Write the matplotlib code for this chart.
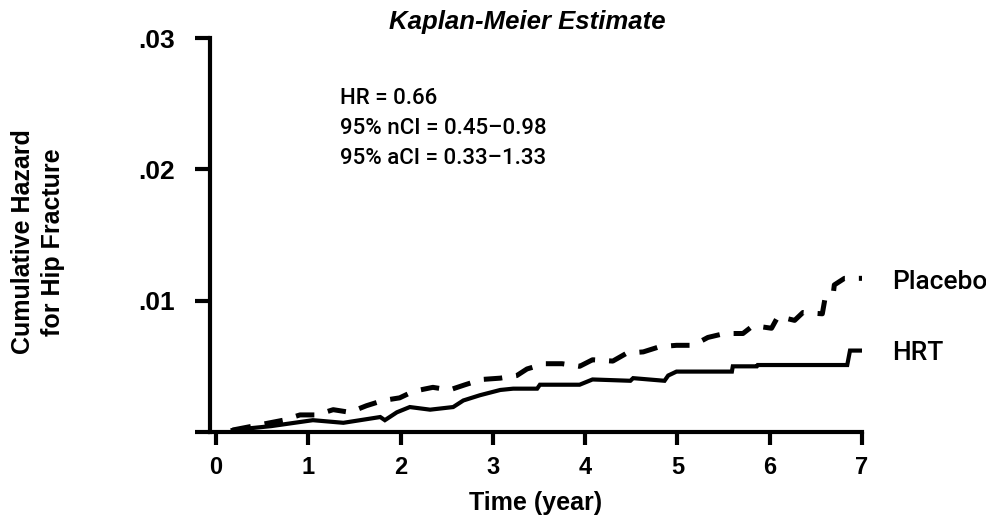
import matplotlib
matplotlib.use("Agg")
import matplotlib.pyplot as plt

# cumulative hazard (time in years, hazard)
hrt_t = [0.18, 0.60, 1.05, 1.38, 1.78, 1.83, 1.96, 2.10, 2.32, 2.57, 2.68, 2.86,
         3.08, 3.22, 3.48, 3.51, 3.94, 4.08, 4.49, 4.52, 4.86, 4.90, 4.99, 5.59,
         5.60, 5.86, 5.87, 6.84, 6.87, 6.98]
hrt_h = [0.00015, 0.00045, 0.0009, 0.0007, 0.00114, 0.0009, 0.0015, 0.0019, 0.0017,
         0.0019, 0.0024, 0.0028, 0.0032, 0.0033, 0.0033, 0.0036, 0.0036, 0.0040,
         0.0039, 0.0041, 0.0039, 0.0043, 0.0046, 0.0046, 0.0050, 0.0050, 0.0051,
         0.0051, 0.0062, 0.0062]

placebo_t = [0.18, 0.73, 0.91, 1.09, 1.27, 1.45, 1.63, 1.81, 1.99, 2.14, 2.35, 2.53,
             2.70, 2.88, 3.08, 3.26, 3.37, 3.56, 3.75, 3.94, 4.08, 4.30, 4.45, 4.63,
             4.81, 4.99, 5.17, 5.33, 5.51, 5.71, 5.82, 6.02, 6.09, 6.27, 6.36, 6.57,
             6.60, 6.69, 6.70, 6.81, 7.00]
placebo_h = [0.00015, 0.0009, 0.0013, 0.0013, 0.0017, 0.0015, 0.0020, 0.0024, 0.0026,
             0.0031, 0.0034, 0.0032, 0.0036, 0.0040, 0.0041, 0.0043, 0.0048, 0.0052,
             0.0052, 0.0050, 0.0055, 0.0054, 0.0060, 0.0061, 0.0065, 0.0066, 0.0066,
             0.0072, 0.0075, 0.0075, 0.0081, 0.0079, 0.0088, 0.0085, 0.0091, 0.0090,
             0.0102, 0.0106, 0.0112, 0.0117, 0.0117]

x_ticks = [0, 1, 2, 3, 4, 5, 6, 7]
y_ticks = [0, 0.01, 0.02, 0.03]
y_ticklabels = ["", ".01", ".02", ".03"]
stats = ["HR = 0.66", "95% nCI = 0.45\u20130.98", "95% aCI = 0.33\u20131.33"]

plt.rcParams["font.family"] = ["Liberation Sans", "DejaVu Sans"]
narrow = ["Roboto", "Liberation Sans"]

fig = plt.figure(figsize=(9.87, 5.15), dpi=100)
ax = fig.add_axes([210 / 987, 83 / 515, 652 / 987, 394 / 515])

ax.plot(hrt_t, hrt_h, color="black", lw=3.0, solid_joinstyle="miter")
ax.plot(placebo_t, placebo_h, color="black", lw=3.6, dashes=(3.7, 2.8),
        dash_capstyle="butt")

ax.set_xlim(-0.065, 7.0)
ax.set_ylim(0, 0.03)
for s in ("top", "right"):
    ax.spines[s].set_visible(False)
for s in ("left", "bottom"):
    ax.spines[s].set_linewidth(3.0)

ax.set_xticks(x_ticks)
ax.set_xticklabels([str(t) for t in x_ticks], fontsize=17, fontweight="bold")
ax.set_yticks(y_ticks)
ax.set_yticklabels(y_ticklabels, fontsize=19, fontweight="bold")
ax.tick_params(axis="x", direction="out", length=9, width=3, pad=8)
ax.tick_params(axis="y", direction="out", length=11, width=3, pad=14)

ax.set_xlabel("Time (year)", fontsize=18, fontweight="bold", labelpad=9)
fig.text(38 / 987, 1 - 242 / 515, "Cumulative Hazard\nfor Hip Fracture",
         rotation=90, ha="center", va="center", multialignment="center",
         fontsize=18, fontweight="bold", linespacing=1.35)
fig.text(527 / 987, 1 - 22 / 515, "Kaplan-Meier Estimate", ha="center",
         va="center", fontsize=18.5, fontweight="bold", fontstyle="italic")

ax.text(1.34, 0.0262, "\n".join(stats), ha="left", va="top", fontsize=16,
        family=narrow, fontweight="medium", linespacing=1.55)
ax.text(7.33, 0.01142, "Placebo", ha="left", va="center", fontsize=19,
        family=narrow, fontweight="medium")
ax.text(7.33, 0.00605, "HRT", ha="left", va="center", fontsize=19,
        family=narrow, fontweight="medium")

fig.savefig("out.png", dpi=100, facecolor="white")
